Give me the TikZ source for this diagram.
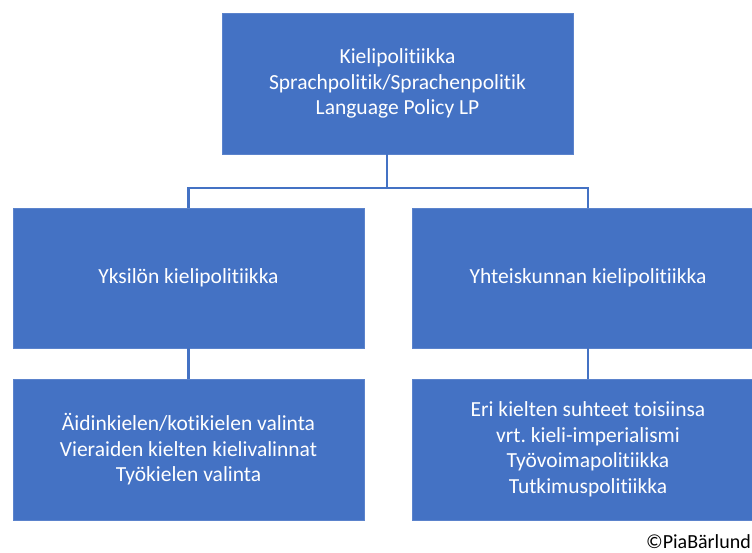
\documentclass[tikz,border=0pt]{standalone}
\usepackage{fontspec}
\setmainfont[Ligatures=NoCommon]{Carlito}
\frenchspacing
\definecolor{offblue}{HTML}{4472C4}
\definecolor{edgeblue}{HTML}{5B83CC}
\begin{document}
\begin{tikzpicture}[x=1pt,y=-1pt,
  box/.style={draw=edgeblue,line width=0.8pt,fill=offblue,text=white,align=center,
    inner sep=0pt,font=\fontsize{21.5}{25.5}\selectfont},
  conn/.style={draw=offblue,line width=2.4pt}]
\useasboundingbox (0,0) rectangle (752,553);
\clip (0,0) rectangle (752,553);
\node[box,minimum width=351pt,minimum height=141pt] (top) at (397.5,83.5)
  {Kielipolitiikka\\Sprachpolitik/Sprachenpolitik\\Language Policy LP};
\node[box,minimum width=351pt,minimum height=140pt] (yks) at (188.5,278)
  {Yksilön kielipolitiikka};
\node[box,minimum width=352pt,minimum height=140pt] (yht) at (588,278)
  {Yhteiskunnan kielipolitiikka};
\node[box,minimum width=351pt,minimum height=141pt] (yksb) at (188.5,449.5)
  {Äidinkielen/kotikielen valinta\\Vieraiden kielten kielivalinnat\\Työkielen valinta};
\node[box,minimum width=352pt,minimum height=141pt] (yhtb) at (588,449.5)
  {Eri kielten suhteet toisiinsa\\vrt. kieli-imperialismi\\Työvoimapolitiikka\\Tutkimuspolitiikka};
\coordinate (bar) at (387,188);
\draw[conn] (top.south -| bar) -- (bar);
\draw[conn] (yks.north) -- (yks.north |- bar) -- (yht.north |- bar) -- (yht.north);
\draw[conn] (yks.south) -- (yksb.north);
\draw[conn] (yht.south) -- (yhtb.north);
\node[anchor=east,font=\fontsize{20}{22}\selectfont,inner sep=0pt] (copy) at (751,542) {©PiaBärlund};
\end{tikzpicture}
\end{document}
